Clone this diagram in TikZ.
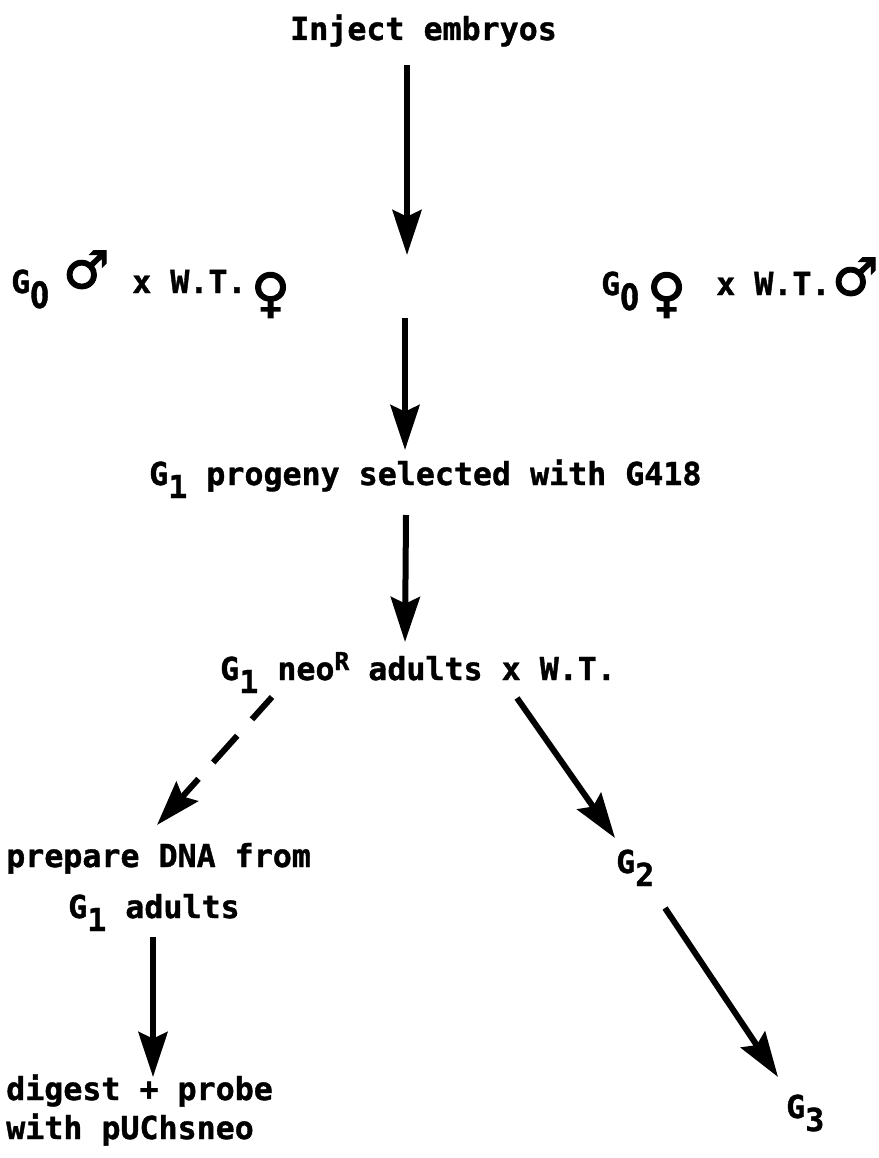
\documentclass[tikz,border=0pt]{standalone}
\usepackage{graphicx}
\usepackage{fontspec}
\setmainfont{DejaVu Sans Mono}[BoldFeatures={FakeBold=1.2}]
\newfontfamily\symf[FakeBold=2.5]{DejaVu Sans}
\newfontfamily\zerof[FakeBold=1.2]{DejaVu Sans}
\usetikzlibrary{arrows.meta,calc}
\newlength\pxl
\setlength\pxl{0.03cm}
\newcommand\lowd[1]{\raisebox{-13\pxl}{#1}}
\newcommand\zsub{\raisebox{-15\pxl}{\scalebox{0.85}[1.15]{\zerof\bfseries 0}}}
\newcommand\highr[1]{\raisebox{10\pxl}{\fontsize{21pt}{21pt}\selectfont #1}}
\newcommand\male[1]{\raisebox{#1\pxl}{\symf\bfseries\fontsize{44pt}{44pt}\selectfont ♂}}
\newcommand\female[1]{\raisebox{-#1\pxl}{\symf\bfseries\fontsize{45pt}{45pt}\selectfont ♀}}
\tikzset{
  lbl/.style={anchor=base west, inner sep=0pt, font=\fontsize{27pt}{30pt}\selectfont\bfseries},
  arr/.style={line width=0.18cm, -{Stealth[length=1.35cm, width=0.87cm, inset=0.2cm]}},
  darr/.style={arr, dash pattern=on 0.9cm off 0.66cm on 1.08cm off 0.66cm}
}
\begin{document}
\begin{tikzpicture}[x=0.03cm, y=-0.03cm]
\useasboundingbox[fill=white] (0,0) rectangle (879,1158);
\node[lbl] (inj) at (290,40) {Inject embryos};
\node[lbl] (g0m) at (11,293) {\makebox[52\pxl][l]{G\zsub}\makebox[69\pxl][l]{\male{5}}\makebox[119\pxl][l]{x W.T.}\female{18}};
\node[lbl] (g0f) at (601,295) {\makebox[46\pxl][l]{G\zsub}\makebox[69\pxl][l]{\female{16}}\makebox[116\pxl][l]{x W.T.}\male{0}};
\coordinate (cross) at (406,287);
\node[lbl] (g1p) at (149,485) {G\lowd{1} progeny selected with G418};
\node[lbl] (neo) at (220,680) {G\lowd{1} neo\highr{R} adults x W.T.};
\node[lbl] (prep1) at (6,867) {prepare DNA from};
\node[lbl] (prep2) at (68,918) {G\lowd{1} adults};
\node[lbl] (dig1) at (6,1100) {digest + probe};
\node[lbl] (dig2) at (6,1139) {with pUChsneo};
\node[lbl] (g2) at (616,873) {G\lowd{2}};
\node[lbl] (g3) at (786,1118) {G\lowd{3}};
\draw[arr] ($(inj.base west)+(117,25)$) -- ($(cross)+(1,-32)$);
\draw[arr] ($(cross)+(-1,31)$) -- ($(g1p.base west)+(256,-35)$);
\draw[arr] ($(g1p.base west)+(257,30)$) -- ($(neo.base west)+(185,-38)$);
\draw[arr] ($(neo.base west)+(297,18)$) -- ($(g2.base west)+(-1,-35)$);
\draw[darr] ($(neo.base west)+(52,17)$) -- ($(prep1.base west)+(151,-42)$);
\draw[arr] ($(prep2.base west)+(85,19)$) -- ($(dig1.base west)+(147,-23)$);
\draw[arr] ($(g2.base west)+(49,35)$) -- ($(g3.base west)+(-8,-41)$);
\end{tikzpicture}
\end{document}
